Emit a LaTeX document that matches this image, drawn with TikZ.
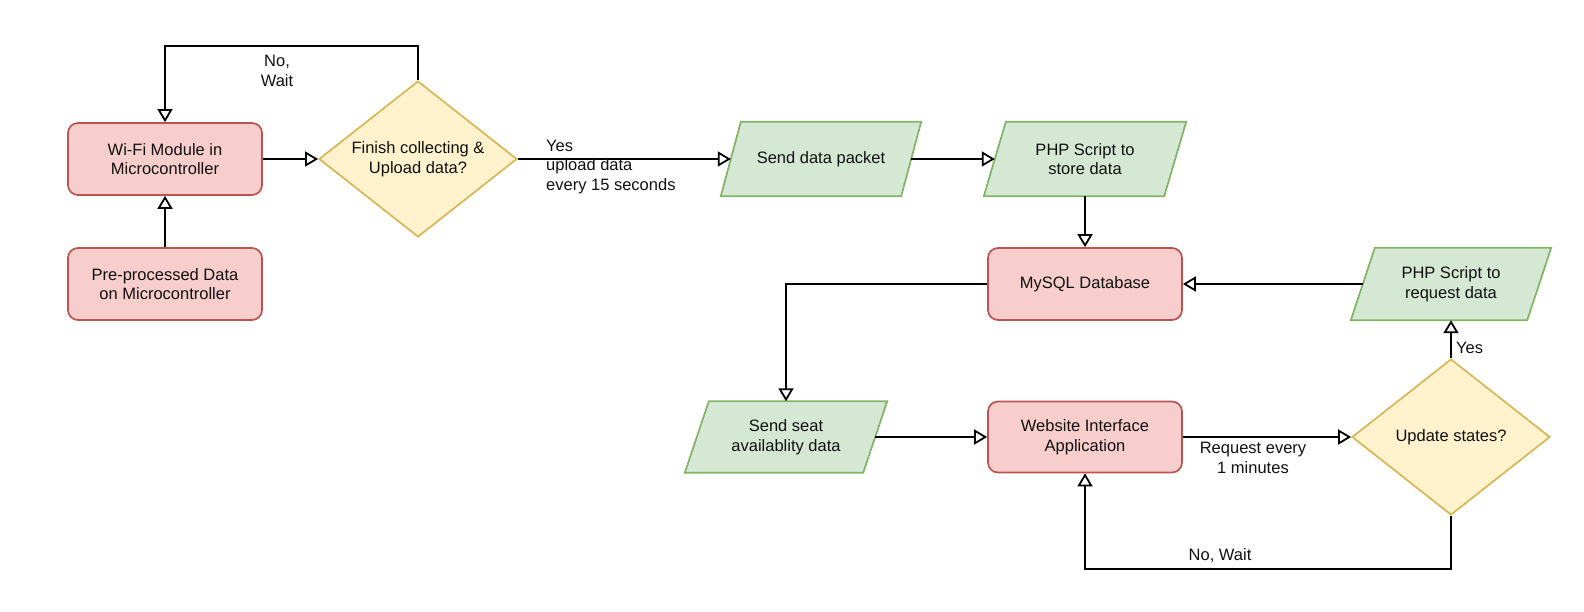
\documentclass[tikz,border=0pt]{standalone}
\usepackage{fontspec}
\setmainfont{Liberation Sans}
\usetikzlibrary{arrows.meta,shapes.geometric,backgrounds}
\definecolor{redfill}{HTML}{F8CECC}
\definecolor{redline}{HTML}{B85450}
\definecolor{greenfill}{HTML}{D5E8D4}
\definecolor{greenline}{HTML}{82B366}
\definecolor{yellowfill}{HTML}{FFF2CC}
\definecolor{yellowline}{HTML}{D6B656}
\definecolor{txt}{HTML}{111111}
\newcommand\drawpara[2]{\draw[parashape] ([xshift=#2]#1.north west) -- ([xshift=#2]#1.north east) -- ([xshift=-#2]#1.south east) -- ([xshift=-#2]#1.south west) -- cycle;}
\begin{document}
\begin{tikzpicture}[x=1pt,y=-1pt,
  every node/.style={font=\fontsize{16.5}{19.5}\selectfont, text=txt},
  procbox/.style={draw=redline, fill=redfill, line width=1.7pt, rounded corners=10pt, minimum width=194pt, minimum height=72pt, align=center, inner sep=2pt},
  paranode/.style={minimum width=180pt, minimum height=74pt, align=center, inner sep=1pt},
  parashape/.style={draw=greenline, fill=greenfill, line width=1.7pt},
  decision/.style={diamond, draw=yellowline, fill=yellowfill, line width=1.7pt, minimum width=198pt, minimum height=156pt, aspect=1.27, inner sep=1pt, align=center},
  arr/.style={draw=black, line width=1.8pt, -{Triangle[open, length=13pt, width=15pt]}},
  lbl/.style={align=center, inner sep=0pt}
]
\useasboundingbox (0,0) rectangle (1584,611);
% nodes
\node[procbox] (wifi) at (165,159) {Wi-Fi Module in\\Microcontroller};
\node[procbox] (pre) at (165,284) {Pre-processed Data\\on Microcontroller};
\node[decision] (dec1) at (418,159) {Finish collecting \&\\Upload data?};
\node[paranode] (send) at (821,159) {Send data packet};
\node[paranode] (store) at (1085,159) {PHP Script to\\store data};
\node[procbox] (mysql) at (1085,284) {MySQL Database};
\node[paranode, minimum width=176pt, minimum height=72pt] (req) at (1451,284) {PHP Script to\\request data};
\node[paranode, minimum width=178pt, minimum height=71pt] (seat) at (786,437) {Send seat\\availablity data};
\node[procbox, minimum height=71pt] (web) at (1085,437) {Website Interface\\Application};
\node[decision] (dec2) at (1451,437) {Update states?};
\begin{scope}[on background layer]
\drawpara{send}{10}
\drawpara{store}{11}
\drawpara{req}{12}
\drawpara{seat}{12}
\end{scope}
% connectors
\coordinate (loop1) at (418,46);
\coordinate (loop2) at (1451,569);
\draw[arr] (pre.north) -- (wifi.south);
\draw[arr] (wifi.east) -- (dec1.west);
\draw[arr] (dec1.north) -- (loop1) -| (wifi.north);
\node[lbl] (nowait1) at (277,71) {No,\\Wait};
\draw[arr] (dec1.east) -- (send.west);
\node[lbl, align=left, anchor=west] (yes1) at (546,167) {Yes\\upload data\\every 15 seconds};
\draw[arr] (send.east) -- (store.west);
\draw[arr] (store.south) -- (mysql.north);
\draw[arr] (req.west) -- (mysql.east);
\draw[arr] (mysql.west) -| (seat.north);
\draw[arr] (seat.east) -- (web.west);
\draw[arr] (web.east) -- (dec2.west);
\node[lbl] (req1) at (1253,458) {Request every\\1 minutes};
\draw[arr] (dec2.north) -- (req.south);
\node[lbl, anchor=west] (yes2) at (1456,348) {Yes};
\draw[arr] (dec2.south) -- (loop2) -| (web.south);
\node[lbl] (nowait2) at (1220,556) {No, Wait};
\end{tikzpicture}
\end{document}
